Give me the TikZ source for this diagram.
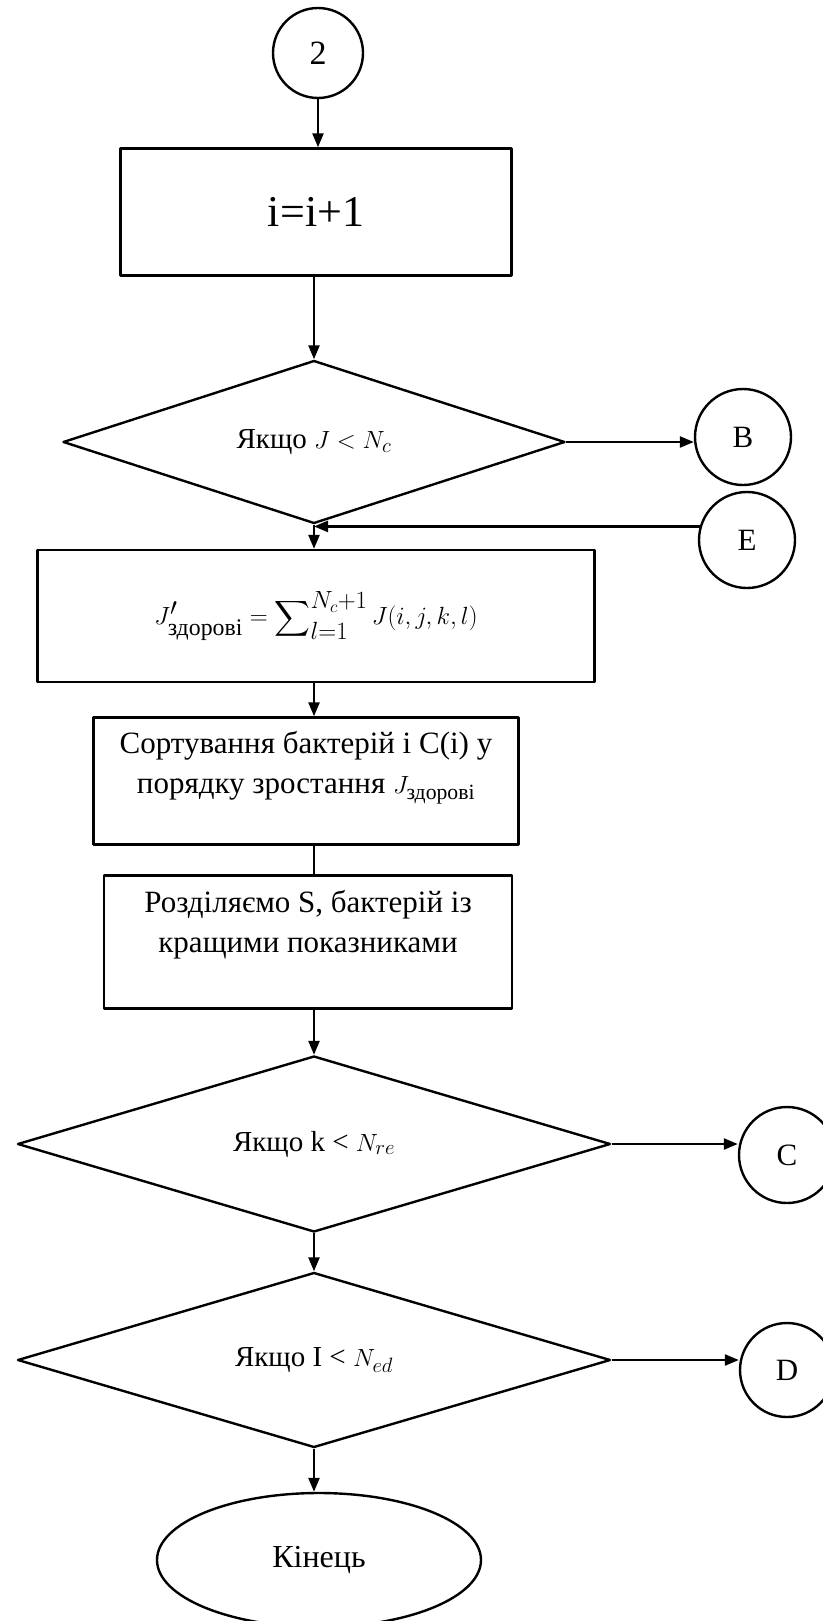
\documentclass[tikz,border=0pt]{standalone}
\usepackage{amsmath}
\usepackage{fontspec}
\setmainfont{Liberation Serif}
\usetikzlibrary{shapes.geometric,arrows.meta}

\begin{document}
\begin{tikzpicture}[x=1pt,y=-1pt,line join=round,line width=2.4pt,
  blk/.style={draw,rectangle,inner sep=0pt},
  cond/.style={draw,diamond,aspect=3,inner sep=0pt,minimum width=593pt,minimum height=176pt,font=\fontsize{29}{33}\selectfont},
  conn/.style={draw,circle,inner sep=0pt,minimum size=96pt,font=\fontsize{31}{35}\selectfont},
  txt/.style={align=center,font=\fontsize{31}{40}\selectfont},
  arr/.style={-{Triangle[length=14pt,width=11pt]}}]
\useasboundingbox (0,0) rectangle (822,1621);
\node[conn,minimum size=90pt,font=\fontsize{34}{38}\selectfont] (c2) at (318,53) {2};
\node[blk,minimum width=391pt,minimum height=127pt,font=\fontsize{44}{50}\selectfont] (inc) at (316,212) {i=i+1};
\node[cond,minimum width=502pt,minimum height=163pt] (d1) at (314,442) {Якщо $J < N_c$};
\node[conn] (B) at (743,437) {B};
\node[conn] (E) at (747,540) {E};
\node[blk,minimum width=557pt,minimum height=132pt,font=\fontsize{34}{40}\selectfont] (sum) at (316,616)
  {$J'_{\text{здорові}} = \displaystyle\sum\nolimits_{l=1}^{N_c+1} J(i,j,k,l)$};
\node[blk,minimum width=425pt,minimum height=127pt] (sort) at (306,781) {};
\node[txt] (sorttxt) at (306,768) {Сортування бактерій і C(i) у\\ порядку зростання $J_{\text{здорові}}$};
\node[blk,minimum width=408pt,minimum height=133pt] (split) at (308,942) {};
\node[txt] (splittxt) at (308,925) {Розділяємо S, бактерій із\\ кращими показниками};
\node[cond] (d2) at (314,1144) {Якщо k < $N_{re}$};
\node[conn] (C) at (787,1155) {C};
\node[cond,minimum height=175pt] (d3) at (314,1360) {Якщо I < $N_{ed}$};
\node[conn,minimum size=94pt] (D) at (787,1370) {D};
\node[draw,ellipse,inner sep=0pt,minimum width=324pt,minimum height=134pt,font=\fontsize{32}{36}\selectfont] (end) at (319,1560) {Кінець};

\draw[arr] (c2.south) -- (c2.south |- inc.north);
\draw[arr] (inc.south -| d1.north) -- (d1.north);
\draw[arr] (d1.east) -- (d1.east -| B.west);
\draw[arr] (E.164) -- (E.164 -| d1.south);
\draw[arr] (d1.south) -- (d1.south |- sum.north);
\draw[arr] (sum.south -| d1.south) -- (d1.south |- sort.north);
\draw (sort.south -| d1.south) -- (d1.south |- split.north);
\draw[arr] (split.south -| d2.north) -- (d2.north);
\draw[arr] (d2.east) -- (d2.east -| C.west);
\draw[arr] (d2.south) -- (d3.north);
\draw[arr] (d3.east) -- (d3.east -| D.west);
\draw[arr] (d3.south) -- (d3.south |- end.north);
\end{tikzpicture}
\end{document}
